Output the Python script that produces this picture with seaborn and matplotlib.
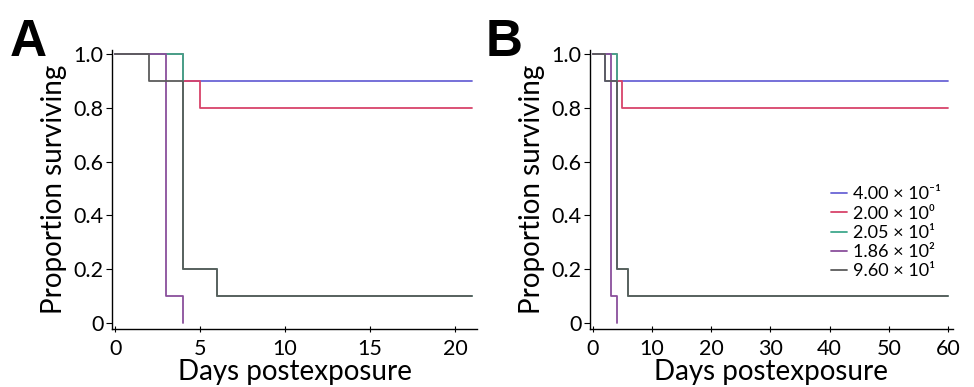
import matplotlib
matplotlib.use("Agg")
import matplotlib.pyplot as plt
import seaborn as sns
import pandas as pd

# Dose groups (legend labels) and line colours
doses = ["4.00 × 10⁻¹", "2.00 × 10⁰", "2.05 × 10¹", "1.86 × 10²", "9.60 × 10¹"]
colors = ["#6a64d6", "#d8436a", "#3fa88c", "#8a4f9c", "#5c5c5c"]

# Panel A: survival step points (day, proportion surviving) per dose
a_days = [
    [0, 4, 21],
    [0, 4, 5, 21],
    [0, 4, 6, 21],
    [0, 3, 4],
    [0, 2, 4, 6, 21],
]
a_surv = [
    [1.0, 0.9, 0.9],
    [1.0, 0.9, 0.8, 0.8],
    [1.0, 0.2, 0.1, 0.1],
    [1.0, 0.1, 0.0],
    [1.0, 0.9, 0.2, 0.1, 0.1],
]

# Panel B: survival step points per dose
b_days = [
    [0, 2, 60],
    [0, 4, 5, 60],
    [0, 4, 6, 60],
    [0, 3, 4],
    [0, 2, 4, 6, 60],
]
b_surv = [
    [1.0, 0.9, 0.9],
    [1.0, 0.9, 0.8, 0.8],
    [1.0, 0.2, 0.1, 0.1],
    [1.0, 0.1, 0.0],
    [1.0, 0.9, 0.2, 0.1, 0.1],
]

y_ticks = [0, 0.2, 0.4, 0.6, 0.8, 1.0]
y_ticklabels = ["0", "0.2", "0.4", "0.6", "0.8", "1.0"]
a_xticks = [0, 5, 10, 15, 20]
b_xticks = [0, 10, 20, 30, 40, 50, 60]


def long_form(days, surv):
    rows = []
    for dose, xs, ys in zip(doses, days, surv):
        for x, y in zip(xs, ys):
            rows.append({"day": x, "surv": y, "dose": dose})
    return pd.DataFrame(rows)


sns.set_style("ticks")
plt.rcParams["font.family"] = ["Lato", "DejaVu Sans"]
plt.rcParams["text.color"] = "black"
plt.rcParams["axes.labelcolor"] = "black"
plt.rcParams["xtick.color"] = "black"
plt.rcParams["ytick.color"] = "black"

fig = plt.figure(figsize=(9.74, 3.87), dpi=100)
ax_a = fig.add_axes([0.115, 0.150, 0.375, 0.721])
ax_b = fig.add_axes([0.6057, 0.150, 0.3727, 0.721])

palette = dict(zip(doses, colors))

for ax, days, surv, xlim, xticks, show_leg in [
    (ax_a, a_days, a_surv, (-0.18, 21.3), a_xticks, False),
    (ax_b, b_days, b_surv, (-0.5, 60.85), b_xticks, True),
]:
    df = long_form(days, surv)
    sns.lineplot(
        data=df, x="day", y="surv", hue="dose", hue_order=doses,
        palette=palette, estimator=None, drawstyle="steps-post",
        linewidth=1.3, legend=show_leg, ax=ax,
    )
    ax.set_xlim(*xlim)
    ax.set_ylim(-0.022, 1.015)
    ax.set_xticks(xticks)
    ax.set_yticks(y_ticks)
    ax.set_yticklabels(y_ticklabels)
    ax.set_xlabel("Days postexposure", fontsize=20, labelpad=0)
    ax.set_ylabel("Proportion surviving", fontsize=20, labelpad=5)
    sns.despine(ax=ax)
    for s in ("left", "bottom"):
        ax.spines[s].set_linewidth(1.0)
        ax.spines[s].set_color("black")
    ax.tick_params(axis="y", direction="out", length=4, width=0.8,
                   labelsize=15.5, pad=2)
    ax.tick_params(axis="x", direction="inout", length=4, width=0.8,
                   labelsize=15.5, pad=5)

leg = ax_b.get_legend()
if leg is not None:
    leg.remove()
handles, labels = ax_b.get_legend_handles_labels()
fig.legend(
    handles, labels, loc="center left", bbox_to_anchor=(0.853, 0.398),
    frameon=False, fontsize=13, handlelength=0.9, handletextpad=0.35,
    labelspacing=0.18, borderpad=0, borderaxespad=0,
)

fig.text(0.010, 0.855, "A", fontsize=37, fontweight="bold",
         family="Liberation Sans", color="black")
fig.text(0.499, 0.855, "B", fontsize=37, fontweight="bold",
         family="Liberation Sans", color="black")

fig.savefig("out.png", dpi=100, facecolor="white")
